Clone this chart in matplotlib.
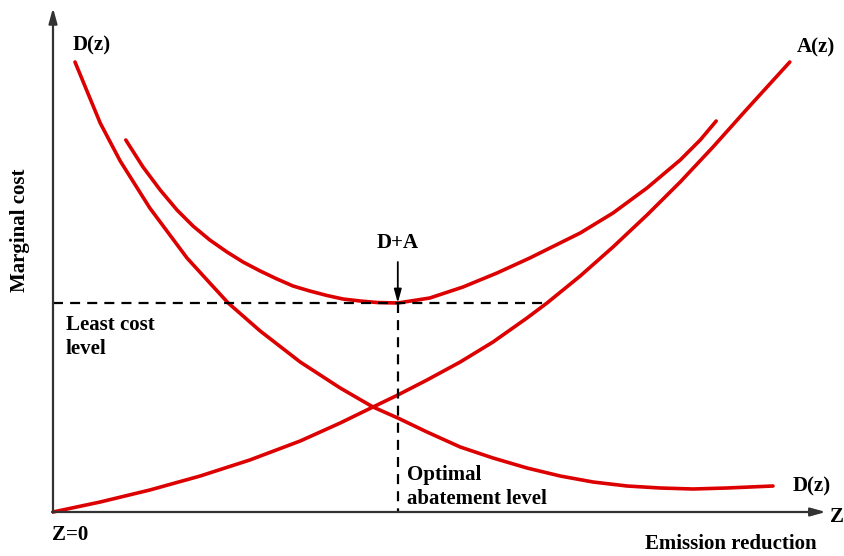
import matplotlib
matplotlib.use("Agg")
import matplotlib.pyplot as plt

# Marginal damage D(z) (emission reduction, cost)
d_x = [2.75, 4.4, 5.9, 8.4, 12.1, 16.75, 19.6, 21.9, 25.9, 30.9, 35.9, 40.0,
       43.1, 46.75, 50.9, 55.0, 59.25, 63.4, 67.5, 71.75, 75.9, 80.0, 84.25, 90.0]
d_y = [90.0, 83.6, 77.8, 70.2, 60.8, 50.8, 45.8, 41.8, 36.2, 30.0, 24.8, 21.0,
       18.8, 16.0, 13.0, 10.8, 8.8, 7.2, 6.0, 5.2, 4.8, 4.6, 4.8, 5.2]

# Marginal abatement cost A(z)
a_x = [0.0, 5.9, 12.1, 18.4, 24.6, 30.9, 35.9, 40.0, 43.1, 46.75, 50.9,
       55.0, 59.25, 61.75, 65.9, 70.0, 74.25, 78.4, 82.5, 86.75, 92.1]
a_y = [0.0, 2.0, 4.4, 7.2, 10.4, 14.2, 17.8, 21.0, 23.4, 26.4, 30.0,
       34.0, 38.8, 41.8, 47.2, 53.0, 59.4, 66.0, 73.0, 80.6, 90.0]

# Sum D+A
s_x = [9.1, 11.25, 13.4, 15.5, 17.5, 19.6, 21.75, 23.75, 25.9, 28.0, 30.0, 32.1, 34.25, 36.25,
       38.4, 40.5, 43.1, 47.1, 51.25, 55.5, 59.6, 65.9, 70.0, 74.25, 78.4, 80.9, 82.9]
s_y = [74.4, 69.0, 64.4, 60.4, 57.2, 54.4, 52.0, 50.0, 48.2, 46.6, 45.2, 44.2, 43.3, 42.6,
       42.2, 41.9, 41.8, 42.8, 45.0, 47.8, 50.8, 55.8, 59.8, 64.8, 70.4, 74.4, 78.2]

z_opt = 43.1        # optimal abatement level
least_cost = 41.8   # least cost level
z_cross = 61.75     # where the least cost level meets A(z)

RED = "#dd0000"
AXC = "#333333"
FONT = dict(family="Liberation Serif", fontweight="bold", fontsize=15, color="black")

fig = plt.figure(figsize=(8.44, 5.56), dpi=100)
ax = fig.add_axes([0, 0, 1, 1])
ax.set_xlim(-6.625, 98.875)
ax.set_ylim(-8.8, 102.4)
ax.axis("off")

# axes with arrows
head = "-|>,head_length=0.9,head_width=0.25"
ax.annotate("", xy=(0, 100.8), xytext=(0, -0.1),
            arrowprops=dict(arrowstyle=head, color=AXC, lw=1.6, shrinkA=0, shrinkB=0))
ax.annotate("", xy=(96.6, 0), xytext=(-0.1, 0),
            arrowprops=dict(arrowstyle=head, color=AXC, lw=1.6, shrinkA=0, shrinkB=0))

# curves
for xs, ys in [(d_x, d_y), (a_x, a_y), (s_x, s_y)]:
    ax.plot(xs, ys, color=RED, lw=2.6, solid_capstyle="round", solid_joinstyle="round")

# dashed guides
dash = (0, (4.5, 3.2))
ax.plot([0, z_cross], [least_cost, least_cost], color="black", lw=1.6, ls=dash)
ax.plot([z_opt, z_opt], [least_cost, 0], color="black", lw=1.6, ls=dash)

# D+A arrow
ax.annotate("", xy=(z_opt, least_cost), xytext=(z_opt, 50.0),
            arrowprops=dict(arrowstyle="-|>,head_length=0.8,head_width=0.22",
                            color="black", lw=1.3, shrinkA=0, shrinkB=0))
ax.text(z_opt, 53.8, "D+A", ha="center", va="center", **FONT)

# labels
ax.text(2.5, 93.4, "D(z)", ha="left", va="center", **FONT)
ax.text(93.0, 93.0, "A(z)", ha="left", va="center", **FONT)
ax.text(92.5, 5.2, "D(z)", ha="left", va="center", **FONT)
ax.text(-0.1, -4.6, "Z=0", ha="left", va="center", **FONT)
ax.text(97.1, -1.0, "Z", ha="left", va="center", **FONT)
ax.text(84.75, -6.4, "Emission reduction", ha="center", va="center", **FONT)
ax.text(-4.1, 56.4, "Marginal cost", ha="center", va="center", rotation=90, **FONT)
ax.text(1.6, 39.4, "Least cost\nlevel", ha="left", va="top", linespacing=1.3, **FONT)
ax.text(44.25, 9.4, "Optimal\nabatement level", ha="left", va="top", linespacing=1.3, **FONT)

fig.savefig("out.png", dpi=100)
